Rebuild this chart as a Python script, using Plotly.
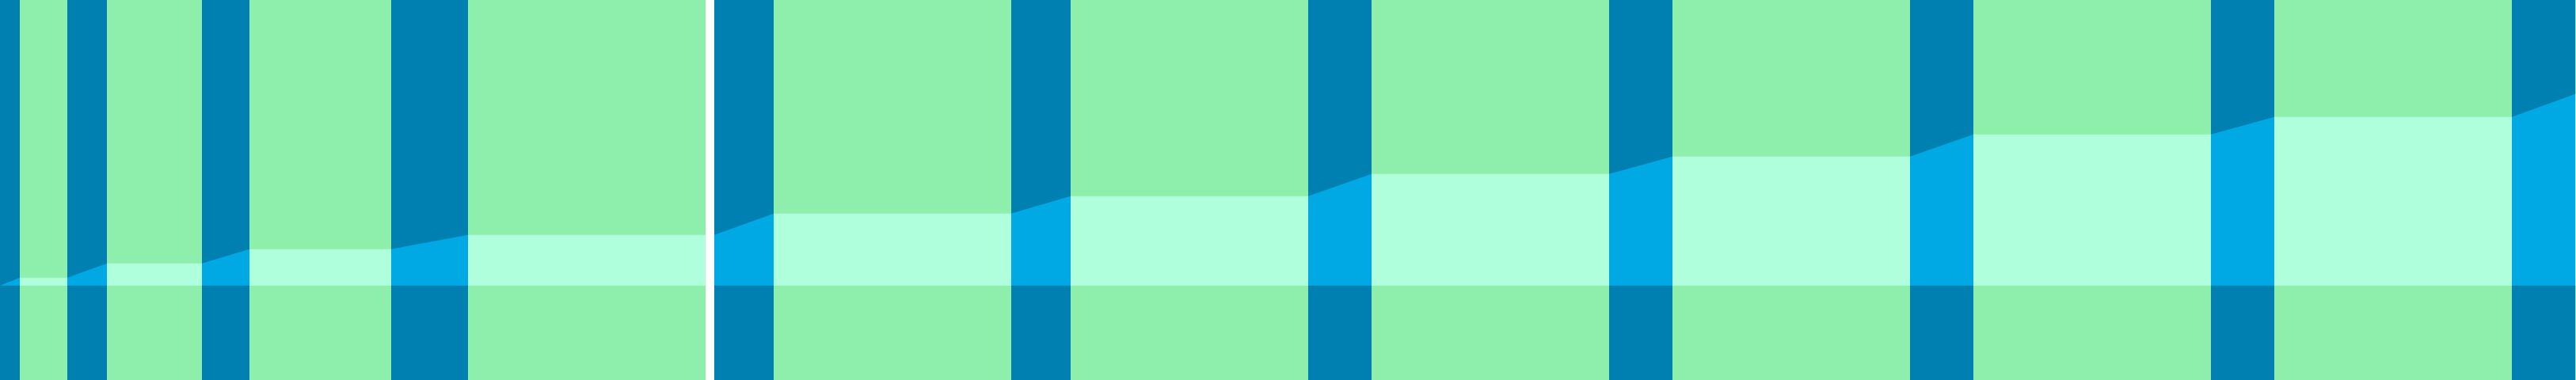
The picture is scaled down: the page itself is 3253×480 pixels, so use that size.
import plotly.graph_objects as go
from plotly.subplots import make_subplots

# Two panes of columns joined by a rising connector area
left_heights = [10, 28, 46, 64]
left_start = [25, 135, 315, 591]
left_end = [85, 255, 494, 891]

right_heights = [91, 113, 141, 163, 191, 213, 242]
right_start = [75, 450, 830, 1210, 1590, 1970, 2350]
right_end = [375, 750, 1130, 1510, 1890, 2270, 2650]

# colours
band_green = '#8EEFAD'
gap_teal = '#0080B0'
bar_mint = '#B0FFDC'
link_blue = '#00A8E4'

W, H = 3253, 480
split_left, split_right = 891, 902   # white divider between the two panes
y_min, y_max = -119.3, 360.7


def add_pane(fig, starts, ends, heights, entry_level, col):
    centers = [(a + b) / 2 for a, b in zip(starts, ends)]
    widths = [b - a for a, b in zip(starts, ends)]

    # full-height green band behind each column
    fig.add_trace(go.Bar(x=centers, y=[y_max - y_min] * len(centers), base=y_min,
                         width=widths, marker=dict(color=band_green, line_width=0),
                         hoverinfo='skip'), row=1, col=col)
    # the columns themselves
    fig.add_trace(go.Bar(x=centers, y=heights, width=widths,
                         marker=dict(color=bar_mint, line_width=0)), row=1, col=col)

    # connector areas in the gaps: previous column top -> next column top
    prev_x = [0] + ends
    prev_y = [entry_level] + heights
    xs, ys = [], []
    for i in range(len(starts)):
        xs += [prev_x[i], prev_x[i], starts[i], starts[i], None]
        ys += [0, prev_y[i], heights[i], 0, None]
    fig.add_trace(go.Scatter(x=xs, y=ys, mode='lines', fill='toself',
                             fillcolor=link_blue, line=dict(width=0),
                             hoverinfo='skip'), row=1, col=col)


fig = make_subplots(rows=1, cols=2, shared_yaxes=True,
                    column_widths=[split_left, W - split_right],
                    horizontal_spacing=(split_right - split_left) / W)

add_pane(fig, left_start, left_end, left_heights, 0, 1)
add_pane(fig, right_start, right_end, right_heights, left_heights[-1], 2)

fig.update_xaxes(visible=False, showgrid=False, zeroline=False)
fig.update_xaxes(range=[0, split_left], row=1, col=1)
fig.update_xaxes(range=[0, W - split_right], row=1, col=2)
fig.update_yaxes(visible=False, showgrid=False, zeroline=False, range=[y_min, y_max])

fig.update_layout(width=W, height=H, margin=dict(l=0, r=0, t=0, b=0, pad=0),
                  barmode='overlay', showlegend=False,
                  plot_bgcolor=gap_teal, paper_bgcolor='white')

fig.write_html('out.html', config={'displayModeBar': False},
               post_script="document.body.style.margin='0';")
